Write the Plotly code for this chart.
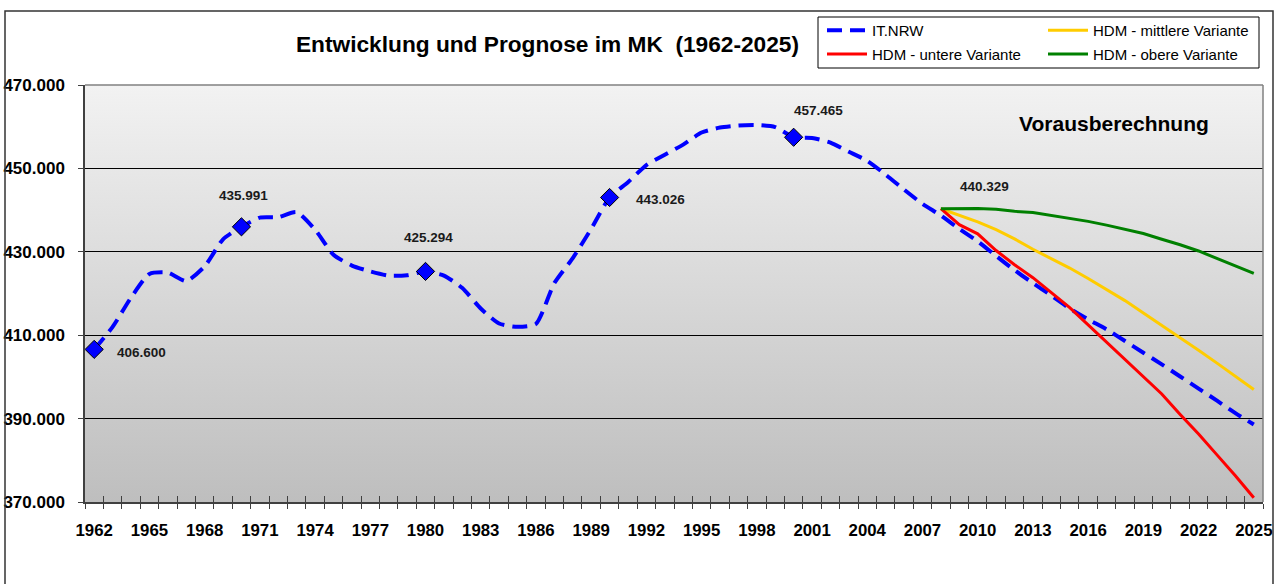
import base64
import plotly.graph_objects as go

# ---------------- data ----------------
YEARS = list(range(1962, 2026))
IT_NRW = [406600, 412000, 419000, 424700, 425000, 423000, 426500, 433000, 435991, 438200,
          438300, 439500, 435300, 429300, 426700, 425300, 424300, 424400, 425294, 424300,
          421300, 416400, 412800, 412000, 412700, 422500, 428500, 435500, 443026, 446700,
          450800, 453300, 455700, 458600, 459800, 460300, 460400, 459900, 457465, 457300,
          456200, 454000, 451800, 448500, 444900, 441500, 438700, 435500, 432500, 429000,
          425600, 422500, 419500, 416400, 413800, 411400, 408600, 405800, 403000, 400100,
          397200, 394300, 391300, 388600]
MARKER_YEARS = [1962, 1970, 1980, 1990, 2000]

HDM_YEARS = list(range(2008, 2026))
HDM_MITTEL = [440329, 438800, 437200, 435300, 433100, 430600, 428400, 426100, 423600, 421000,
              418300, 415300, 412400, 409500, 406400, 403300, 400200, 397000]
HDM_UNTER = [440329, 436500, 434300, 430300, 426900, 423800, 420200, 416600, 412500, 408400,
             404300, 400100, 395900, 391000, 386300, 381300, 376300, 371000]
HDM_OBER = [440329, 440400, 440400, 440200, 439700, 439400, 438700, 438100, 437300, 436400,
            435400, 434400, 433000, 431700, 430200, 428400, 426700, 424800]

FORECAST_START = 2008
X_TICK_YEARS = list(range(1962, 2026, 3))
Y_TICKS = [370000, 390000, 410000, 430000, 450000, 470000]
X_RANGE = [1961.5, 2025.5]
Y_RANGE = [370000, 470000]

TITLE = "Entwicklung und Prognose im MK  (1962-2025)"
NAME_IT = "IT.NRW"
NAME_MITTEL = "HDM - mittlere Variante"
NAME_UNTER = "HDM - untere Variante"
NAME_OBER = "HDM - obere Variante"
FORECAST_TEXT = "Vorausberechnung"

FONT = "Liberation Sans, Arial, sans-serif"


def de(v):
    return f"{v:,}".replace(",", ".")


# label offsets (pixels) per annotated point
LABEL_OFFSETS = {1962: (47, -3), 1970: (2, 31), 1980: (3, 34), 1990: (51, -2), 2000: (25, 27)}
HDM_LABEL_OFFSET = (44, 22)

fig = go.Figure()

fig.add_trace(go.Scatter(x=YEARS, y=IT_NRW, name=NAME_IT, mode="lines", legend="legend", legendgroup="a",
                         line=dict(color="#0000ff", width=4, dash="15px,8px", shape="spline", smoothing=0.6)))
fig.add_trace(go.Scatter(x=HDM_YEARS, y=HDM_MITTEL, name=NAME_MITTEL, mode="lines", legend="legend2",
                         legendgroup="c", line=dict(color="#ffcc00", width=3)))
fig.add_trace(go.Scatter(x=HDM_YEARS, y=HDM_UNTER, name=NAME_UNTER, mode="lines", legend="legend",
                         legendgroup="b", line=dict(color="#ff0000", width=3)))
fig.add_trace(go.Scatter(x=HDM_YEARS, y=HDM_OBER, name=NAME_OBER, mode="lines", legend="legend2",
                         legendgroup="d", line=dict(color="#008000", width=3)))

mx = MARKER_YEARS
my = [IT_NRW[YEARS.index(y)] for y in MARKER_YEARS]
fig.add_trace(go.Scatter(x=mx, y=my, mode="markers", showlegend=False, hoverinfo="skip",
                         marker=dict(symbol="diamond", size=14, color="#0000ff",
                                     line=dict(color="black", width=1))))

lab_font = dict(family=FONT, size=13.5, color="#1a1a1a", weight="bold")
annotations = []
for yr, val in zip(mx, my):
    dx, dy = LABEL_OFFSETS[yr]
    annotations.append(dict(x=yr, y=val, xref="x", yref="y", text=de(val), showarrow=False,
                            xanchor="center", yanchor="middle", xshift=dx, yshift=dy, font=lab_font))
annotations.append(dict(x=HDM_YEARS[0], y=HDM_MITTEL[0], xref="x", yref="y", text=de(HDM_MITTEL[0]),
                        showarrow=False, xanchor="center", yanchor="middle",
                        xshift=HDM_LABEL_OFFSET[0], yshift=HDM_LABEL_OFFSET[1], font=lab_font))
annotations.append(dict(x=0.8734, y=0.908, xref="paper", yref="paper", text=FORECAST_TEXT, showarrow=False,
                        xanchor="center", yanchor="middle",
                        font=dict(family=FONT, size=21, color="black", weight="bold")))

# gradient background for plot area
svg = ("<svg xmlns='http://www.w3.org/2000/svg' width='100' height='100'>"
       "<defs><linearGradient id='g' x1='0' y1='0' x2='0' y2='1'>"
       "<stop offset='0' stop-color='#f2f2f2'/><stop offset='1' stop-color='#bebebe'/>"
       "</linearGradient></defs><rect width='100' height='100' fill='url(#g)'/></svg>")
src = "data:image/svg+xml;base64," + base64.b64encode(svg.encode()).decode()

# plot area in pixels: x 85..1263, y 85..502
def px_x(p):
    return (p - 85) / 1178.0


def px_y(p):
    return (502 - p) / 417.0


shapes = [
    # outer chart frame
    dict(type="rect", xref="paper", yref="paper", x0=px_x(5), x1=px_x(1273), y0=px_y(600), y1=px_y(11),
         line=dict(color="#333333", width=1.5), fillcolor="rgba(0,0,0,0)", layer="above"),
    # legend box
    dict(type="rect", xref="paper", yref="paper", x0=px_x(818), x1=px_x(1259), y0=px_y(68), y1=px_y(17),
         line=dict(color="black", width=1), fillcolor="rgba(0,0,0,0)", layer="above"),
    # plot-area top/right border
    dict(type="line", xref="paper", yref="paper", x0=0, x1=1, y0=1, y1=1,
         line=dict(color="#808080", width=1.5), layer="above"),
    dict(type="line", xref="paper", yref="paper", x0=1, x1=1, y0=0, y1=1,
         line=dict(color="#808080", width=1.5), layer="above"),
    # forecast start line
    dict(type="line", xref="x", yref="paper", x0=FORECAST_START, x1=FORECAST_START, y0=0, y1=1,
         line=dict(color="black", width=1.5, dash="7px,4px,2px,4px"), layer="between"),
]

leg_common = dict(orientation="v", xanchor="left", yanchor="top", borderwidth=0, bgcolor="rgba(0,0,0,0)",
                  font=dict(family=FONT, size=15, color="black"), itemwidth=40, tracegroupgap=1.3)

fig.update_layout(
    width=1275, height=584,
    margin=dict(l=85, r=12, t=85, b=82, autoexpand=False),
    paper_bgcolor="white", plot_bgcolor="rgba(0,0,0,0)",
    font=dict(family=FONT, color="black"),
    title=dict(text=TITLE, x=547.5 / 1275, y=1 - 44 / 584, xanchor="center", yanchor="middle",
               xref="container", yref="container",
               font=dict(family=FONT, size=22.7, color="black", weight="bold")),
    showlegend=True,
    legend=dict(x=px_x(822), y=px_y(14), **leg_common),
    legend2=dict(x=px_x(1043), y=px_y(14), **leg_common),
    xaxis=dict(range=X_RANGE, tickmode="array", tickvals=X_TICK_YEARS, ticktext=[str(y) for y in X_TICK_YEARS],
               ticks="", showgrid=False, zeroline=False, showline=True, linecolor="#404040", linewidth=1.5,
               tickfont=dict(family=FONT, size=16.8, color="black", weight="bold"), ticklabelstandoff=12,
               minor=dict(tickmode="linear", tick0=1961.5, dtick=1, ticks="outside", ticklen=5,
                          tickcolor="#404040", tickwidth=1, showgrid=False)),
    xaxis2=dict(range=X_RANGE, overlaying="x", anchor="y", side="bottom", tickmode="linear", tick0=1961.5, dtick=1,
                ticks="inside", ticklen=6, tickcolor="#404040", showticklabels=False, showgrid=False,
                zeroline=False, showline=False),
    yaxis=dict(range=Y_RANGE, tickmode="array", tickvals=Y_TICKS, ticktext=[de(v) for v in Y_TICKS],
               ticks="outside", ticklen=5, tickcolor="#404040", showgrid=True, gridcolor="black", gridwidth=1,
               zeroline=False, showline=True, linecolor="#404040", linewidth=1.5,
               tickfont=dict(family=FONT, size=17, color="black", weight="bold"), ticklabelstandoff=10),
    annotations=annotations,
    shapes=shapes,
    images=[dict(source=src, xref="x", yref="y", x=X_RANGE[0], y=Y_RANGE[1],
                 sizex=X_RANGE[1] - X_RANGE[0], sizey=Y_RANGE[1] - Y_RANGE[0],
                 sizing="stretch", layer="below", xanchor="left", yanchor="top")],
)
fig.add_trace(go.Scatter(x=[X_RANGE[0]], y=[Y_RANGE[0]], xaxis="x2", yaxis="y", mode="markers",
                         marker=dict(opacity=0), showlegend=False, hoverinfo="skip"))

fig.write_html("out.html", config={"displayModeBar": False},
               post_script="document.body.style.margin='0px';document.body.style.overflow='hidden';")
